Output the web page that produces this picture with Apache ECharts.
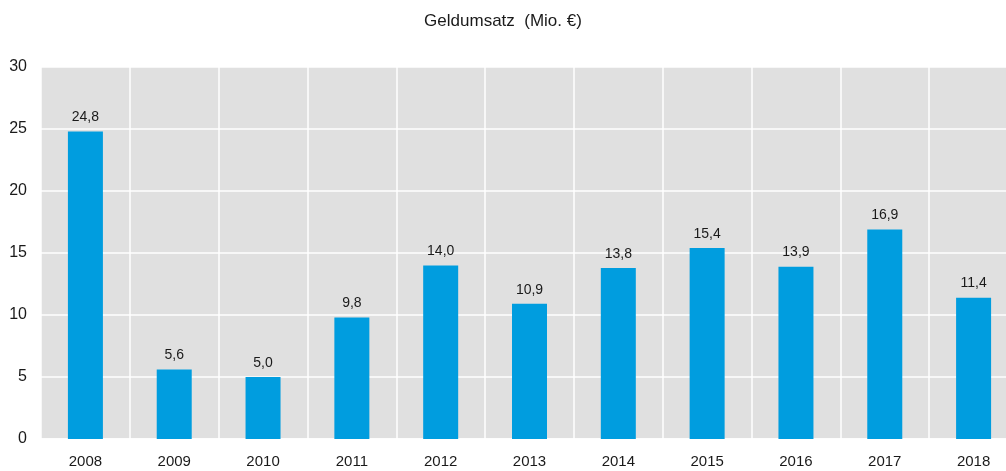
<!DOCTYPE html>
<html>
<head>
<meta charset="utf-8">
<script src="https://cdn.jsdelivr.net/npm/echarts@6/dist/echarts.min.js"></script>
<style>
	html, body { margin: 0; padding: 0; background: #fff; }
	#chart { width: 1006px; height: 471px; }
</style>
</head>
<body>
<div id="chart"></div>
<script>
	var years = ['2008', '2009', '2010', '2011', '2012', '2013', '2014', '2015', '2016', '2017', '2018'];
	var umsatz = [24.8, 5.6, 5.0, 9.8, 14.0, 10.9, 13.8, 15.4, 13.9, 16.9, 11.4];

	var chart = echarts.init(document.getElementById('chart'));
	chart.setOption({
		animation: false,
		textStyle: { fontFamily: 'Liberation Sans, Arial, sans-serif' },
		title: {
			text: 'Geldumsatz  (Mio. €)',
			left: 'center',
			top: 8,
			textStyle: { color: '#1a1a1a', fontSize: 17, fontWeight: 'normal' }
		},
		grid: {
			left: 41,
			top: 67,
			width: 977,
			bottom: 32,
			outerBoundsMode: 'none',
			containLabel: false,
			show: true,
			backgroundColor: '#e0e0e0',
			borderWidth: 0
		},
		xAxis: {
			type: 'category',
			data: years,
			axisLine: { show: true, lineStyle: { color: '#ffffff', width: 1.5 } },
			axisTick: { show: false },
			axisLabel: { color: '#1a1a1a', fontSize: 15, margin: 15 },
			splitLine: { show: true, lineStyle: { color: '#ffffff', width: 1.5 } }
		},
		yAxis: {
			type: 'value',
			min: 0,
			max: 30,
			interval: 5,
			axisLine: { show: false },
			axisTick: { show: false },
			axisLabel: { color: '#1a1a1a', fontSize: 16, margin: 14 },
			splitLine: { show: true, lineStyle: { color: '#ffffff', width: 1.5 } }
		},
		series: [{
			type: 'bar',
			data: umsatz,
			barWidth: 35,
			itemStyle: { color: '#009ddf' },
			label: {
				show: true,
				position: 'top',
				distance: 7,
				color: '#1a1a1a',
				fontSize: 14,
				formatter: function (p) { return p.value.toFixed(1).replace('.', ','); }
			}
		}]
	});
</script>
</body>
</html>
